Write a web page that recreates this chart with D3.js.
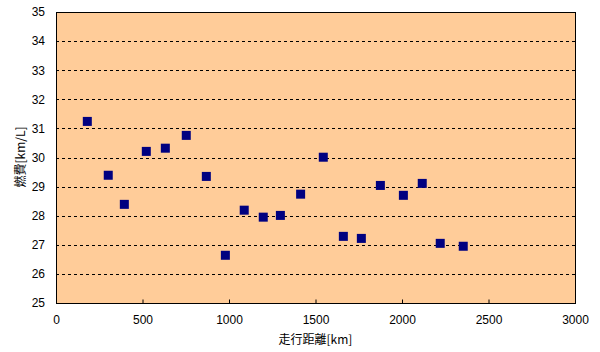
<!DOCTYPE html>
<html>
<head>
<meta charset="utf-8">
<script src="https://cdn.jsdelivr.net/npm/d3@7"></script>
<style>
  body { margin: 0; background: #fff; }
  text { font-family: "Liberation Sans", Arial, sans-serif; font-size: 12px; fill: #000; }
  .jp { font-family: "Noto Sans CJK JP", sans-serif; font-size: 12px; }
</style>
</head>
<body>
<svg id="chart" width="600" height="352"></svg>
<script>
// distance travelled [km] and fuel economy [km/L]
const distance = [181, 302, 395, 522, 632, 753, 869, 979, 1088, 1198, 1297, 1414, 1545, 1661, 1765, 1875, 2008, 2117, 2221, 2354];
const economy = [31.24, 29.39, 28.39, 30.21, 30.32, 30.76, 29.35, 26.64, 28.19, 27.95, 28.01, 28.74, 30.01, 27.29, 27.22, 29.04, 28.70, 29.11, 27.05, 26.95];
const xTicks = [0, 500, 1000, 1500, 2000, 2500, 3000];
const yTicks = [25, 26, 27, 28, 29, 30, 31, 32, 33, 34, 35];

const svg = d3.select("#chart");
const plotLeft = 56, plotRight = 575, plotTop = 12, plotBottom = 303;

const x = d3.scaleLinear().domain([0, 3000]).range([plotLeft, plotRight]);
const y = d3.scaleLinear().domain([25, 35]).range([plotBottom, plotTop]);

svg.append("rect")
  .attr("x", plotLeft).attr("y", plotTop)
  .attr("width", plotRight - plotLeft).attr("height", plotBottom - plotTop)
  .attr("fill", "#ffcc99");

// dashed gridlines
svg.append("g")
  .selectAll("line")
  .data(yTicks.slice(1, -1))
  .join("line")
  .attr("x1", plotLeft).attr("x2", plotRight)
  .attr("y1", (d) => Math.round(y(d)) + 0.5)
  .attr("y2", (d) => Math.round(y(d)) + 0.5)
  .attr("stroke", "#000")
  .attr("stroke-dasharray", "3,3");

// frame
svg.append("rect")
  .attr("x", plotLeft + 0.5).attr("y", plotTop + 0.5)
  .attr("width", plotRight - plotLeft).attr("height", plotBottom - plotTop)
  .attr("fill", "none").attr("stroke", "#000");

const xAxis = svg.append("g")
  .attr("transform", `translate(0,${plotBottom + 0.5})`)
  .call(d3.axisBottom(x).tickValues(xTicks).tickSize(-4).tickPadding(12).tickFormat(d3.format("d")));
xAxis.select(".domain").remove();
xAxis.selectAll("text").style("font-size", "12px").style("font-family", "Liberation Sans, Arial, sans-serif");

const yAxis = svg.append("g")
  .attr("transform", `translate(${plotLeft},0)`)
  .call(d3.axisLeft(y).tickValues(yTicks).tickSize(0).tickPadding(11).tickFormat(d3.format("d")));
yAxis.select(".domain").remove();
yAxis.selectAll("text").style("font-size", "12px").style("font-family", "Liberation Sans, Arial, sans-serif");

// points
const size = 9;
svg.append("g")
  .selectAll("rect")
  .data(distance.map((d, i) => [d, economy[i]]))
  .join("rect")
  .attr("x", (d) => x(d[0]) - size / 2)
  .attr("y", (d) => y(d[1]) - size / 2)
  .attr("width", size).attr("height", size)
  .attr("fill", "#000080");

svg.append("text")
  .attr("class", "jp")
  .attr("x", (plotLeft + plotRight) / 2)
  .attr("y", 344)
  .attr("text-anchor", "middle")
  .text("走行距離[km]");

svg.append("text")
  .attr("class", "jp")
  .attr("transform", "translate(25,157) rotate(-90)")
  .attr("text-anchor", "middle")
  .text("燃費[km/L]");
</script>
</body>
</html>
